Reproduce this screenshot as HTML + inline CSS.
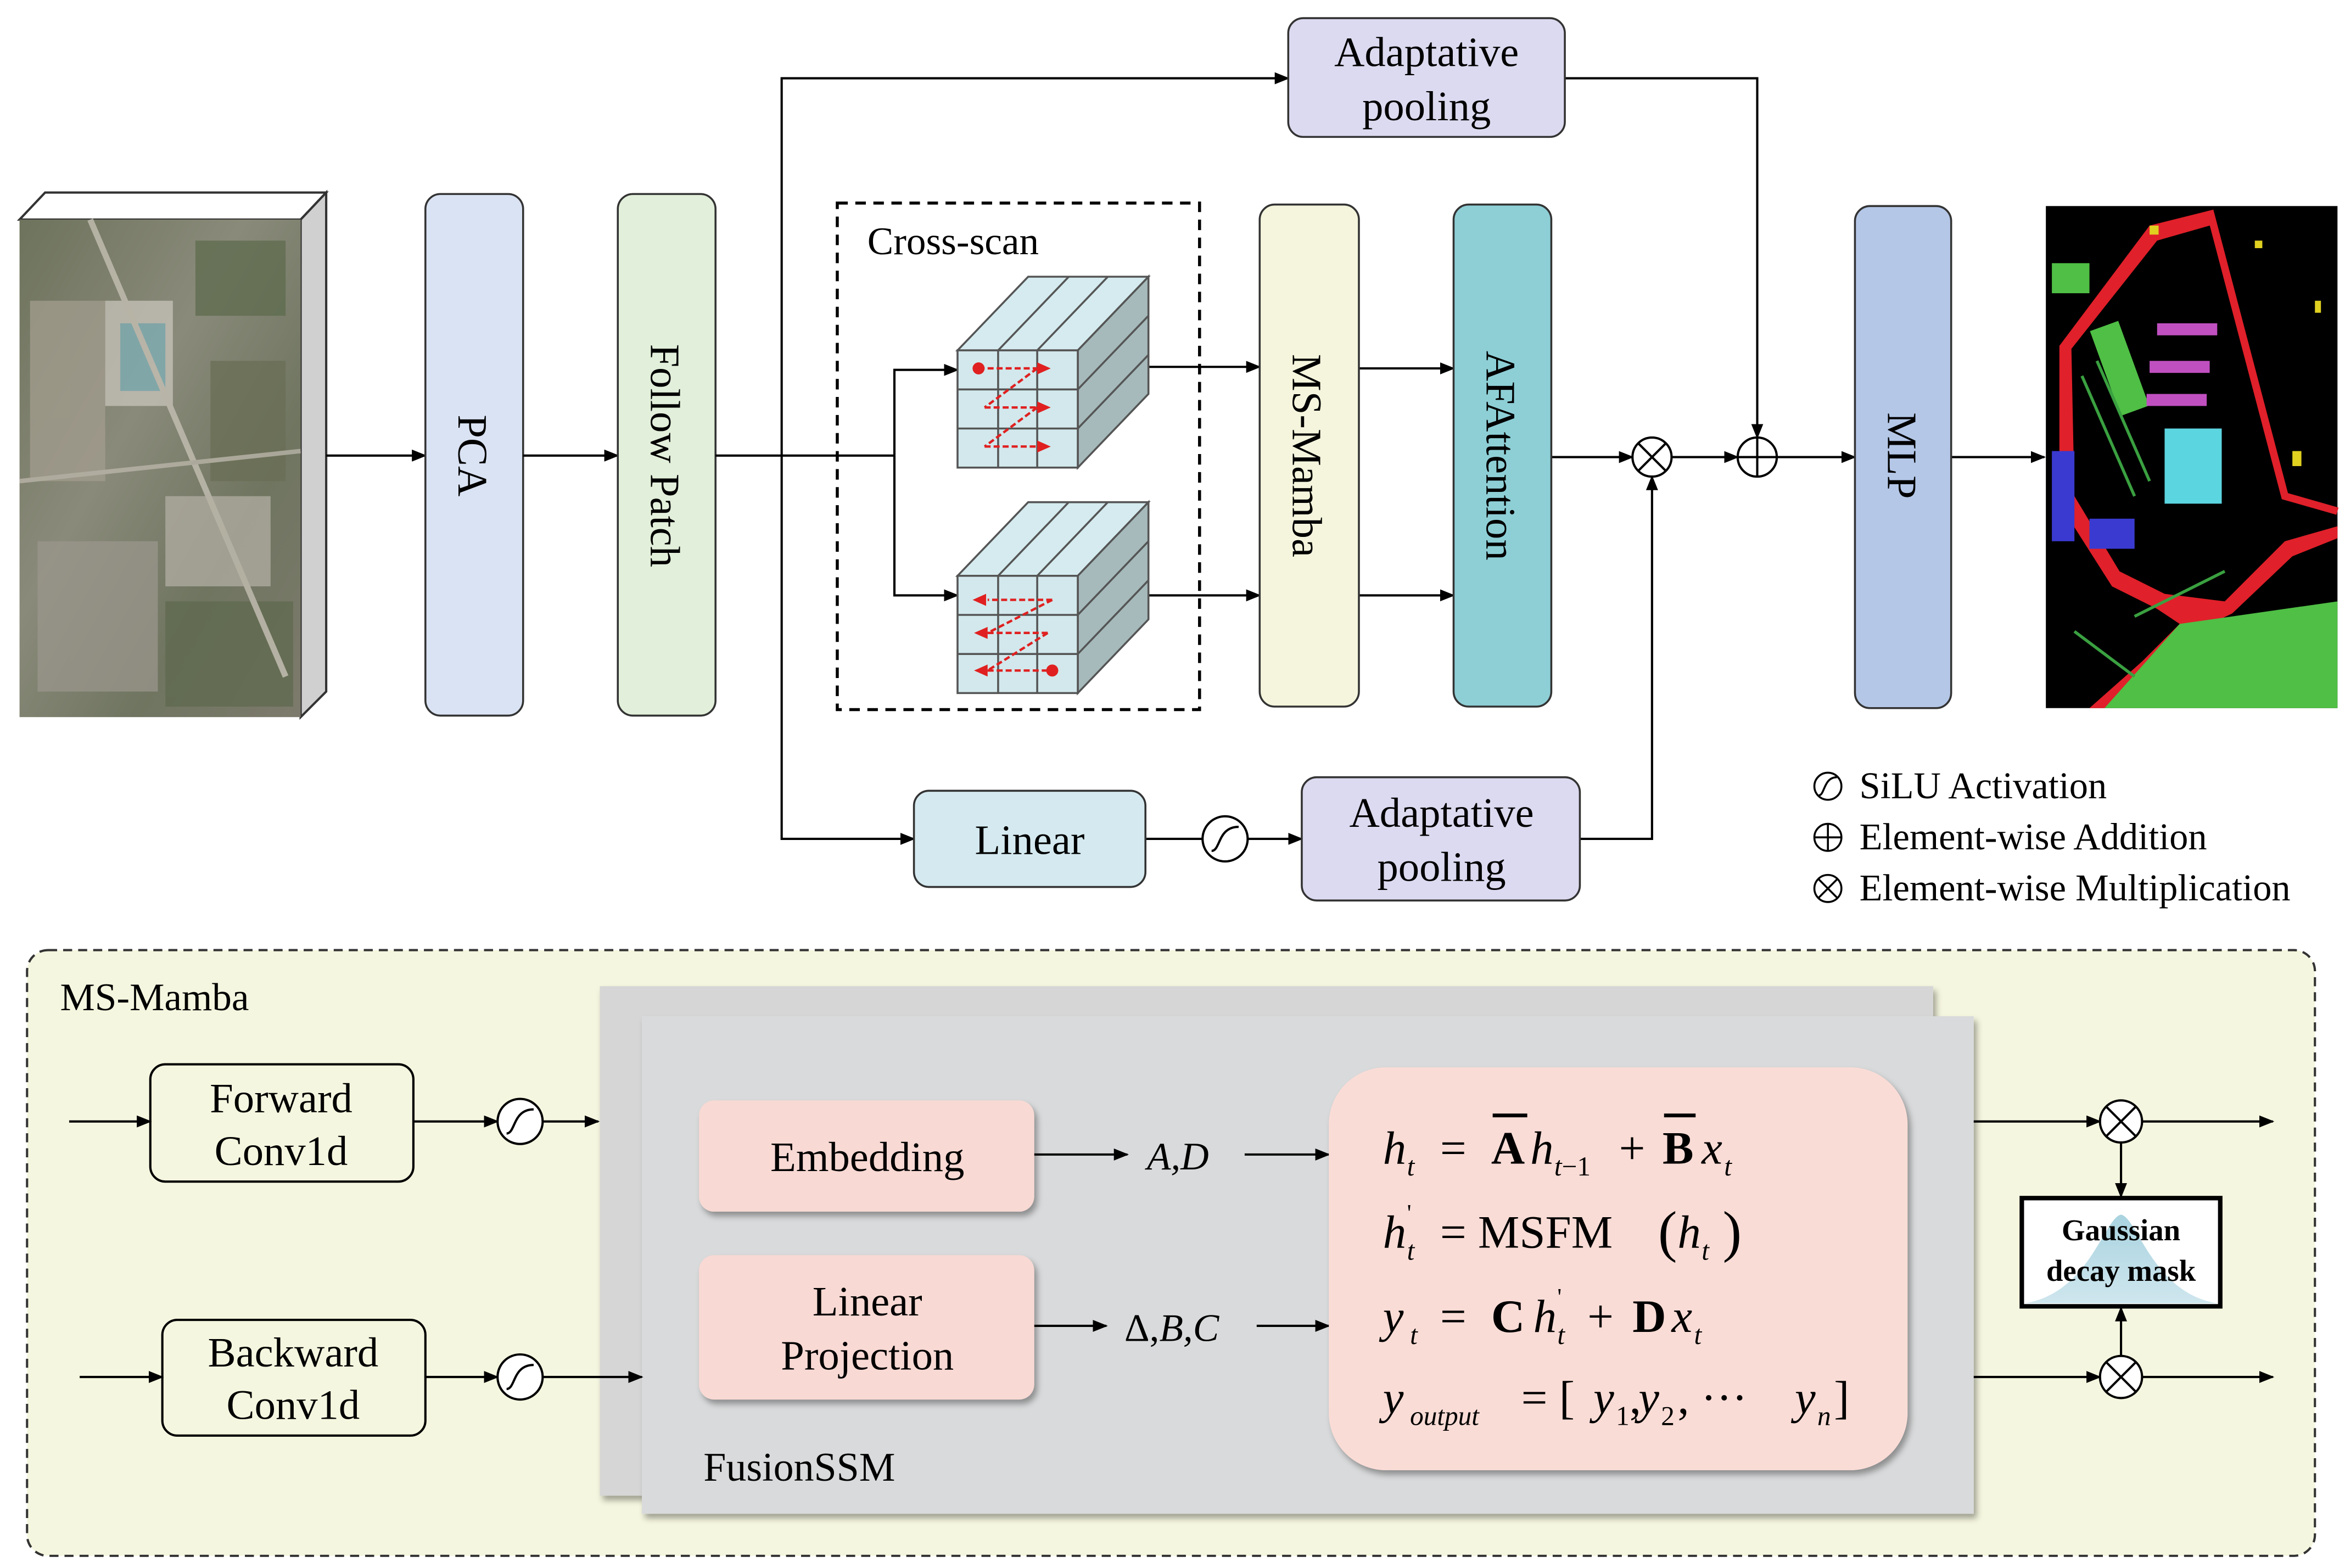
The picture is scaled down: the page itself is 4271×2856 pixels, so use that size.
<!DOCTYPE html>
<html><head><meta charset="utf-8"><style>html,body{margin:0;padding:0;background:#fff}svg{display:block}text{font-family:"Liberation Serif",serif}</style></head>
<body>
<svg xmlns="http://www.w3.org/2000/svg" width="4271" height="2856" viewBox="0 0 1560 1043">
<defs>
<marker id="ar" markerWidth="10" markerHeight="8" refX="9" refY="4" orient="auto" markerUnits="userSpaceOnUse"><path d="M0,0 L10,4 L0,8 z" fill="#000"/></marker>
<linearGradient id="aer" x1="0" y1="0" x2="1" y2="1"><stop offset="0" stop-color="#6d735c"/><stop offset="0.4" stop-color="#8a8a7a"/><stop offset="0.7" stop-color="#6f7560"/><stop offset="1" stop-color="#7d7a6c"/></linearGradient>
<filter id="sh" x="-10%" y="-10%" width="130%" height="130%"><feDropShadow dx="2" dy="3" stdDeviation="2" flood-opacity="0.35"/></filter>
<linearGradient id="gs" x1="0" y1="0" x2="0" y2="1"><stop offset="0" stop-color="#a9d3e0"/><stop offset="1" stop-color="#cfe6ee"/></linearGradient>
</defs>
<rect width="1560" height="1043" fill="#fff"/>

<!-- aerial cube -->
<polygon points="13,146 30,128 217,128 200,146" fill="#fff" stroke="#333" stroke-width="1.5"/>
<polygon points="200,146 217,128 217,460 200,477" fill="#d0d0d0" stroke="#333" stroke-width="1.5"/>
<rect x="13" y="146" width="187" height="331" fill="url(#aer)"/>
<g opacity="0.75">
<rect x="20" y="200" width="50" height="120" fill="#a39d8f"/>
<rect x="70" y="200" width="45" height="70" fill="#c8c4bb"/>
<rect x="80" y="215" width="30" height="45" fill="#7fb0b8"/>
<rect x="130" y="160" width="60" height="50" fill="#5d6b4d"/>
<rect x="25" y="360" width="80" height="100" fill="#9a968c"/>
<rect x="110" y="330" width="70" height="60" fill="#b2aea3"/>
<rect x="140" y="240" width="50" height="80" fill="#6a6e55"/>
<rect x="110" y="400" width="85" height="70" fill="#5f6a4f"/>
<path d="M60,146 L190,450" stroke="#c9c4b8" stroke-width="4"/>
<path d="M13,320 L200,300" stroke="#bdb8ac" stroke-width="3"/>
</g>
<line x1="217" y1="303" x2="283" y2="303" stroke="#000" stroke-width="1.5" marker-end="url(#ar)"/>

<!-- PCA / Follow Patch -->
<rect x="283" y="129" width="65" height="347" rx="10" fill="#dae3f3" stroke="#333" stroke-width="1.3"/>
<text transform="translate(305,303) rotate(90)" font-size="28" text-anchor="middle">PCA</text>
<line x1="348" y1="303" x2="411" y2="303" stroke="#000" stroke-width="1.5" marker-end="url(#ar)"/>
<rect x="411" y="129" width="65" height="347" rx="10" fill="#e2efda" stroke="#333" stroke-width="1.3"/>
<text transform="translate(433,303) rotate(90)" font-size="28" text-anchor="middle">Follow Patch</text>

<!-- branches -->
<g stroke="#000" stroke-width="1.5" fill="none">
<line x1="476" y1="303" x2="595" y2="303"/>
<polyline points="520,303 520,52 857,52" marker-end="url(#ar)"/>
<polyline points="520,303 520,558 608,558" marker-end="url(#ar)"/>
<polyline points="595,303 595,246 637,246" marker-end="url(#ar)"/>
<polyline points="595,303 595,396 637,396" marker-end="url(#ar)"/>
<line x1="764" y1="244" x2="838" y2="244" marker-end="url(#ar)"/>
<line x1="764" y1="396" x2="838" y2="396" marker-end="url(#ar)"/>
<line x1="904" y1="245" x2="967" y2="245" marker-end="url(#ar)"/>
<line x1="904" y1="396" x2="967" y2="396" marker-end="url(#ar)"/>
<line x1="1032" y1="304" x2="1086" y2="304" marker-end="url(#ar)"/>
<line x1="1112" y1="304" x2="1156" y2="304" marker-end="url(#ar)"/>
<line x1="1182" y1="304" x2="1234" y2="304" marker-end="url(#ar)"/>
<polyline points="1041,52 1169,52 1169,291" marker-end="url(#ar)"/>
<line x1="1298" y1="304" x2="1360" y2="304" marker-end="url(#ar)"/>
<line x1="762" y1="558" x2="800" y2="558"/>
<line x1="830" y1="558" x2="866" y2="558" marker-end="url(#ar)"/>
<polyline points="1051,558 1099,558 1099,317" marker-end="url(#ar)"/>
</g>

<!-- cross-scan box -->
<rect x="557" y="135" width="241" height="337" fill="none" stroke="#000" stroke-width="2" stroke-dasharray="7,5"/>
<text x="577" y="169" font-size="26">Cross-scan</text>

<!-- cubes -->
<g id="cube1" stroke="#555" stroke-width="1.3">
<polygon points="637,233 684,184 764,184 717,233" fill="#d5ebef"/>
<polygon points="717,233 764,184 764,262 717,311" fill="#a6babb"/>
<rect x="637" y="233" width="80" height="78" fill="#d2e8ec"/>
<line x1="664" y1="233" x2="711" y2="184"/><line x1="690" y1="233" x2="737" y2="184"/>
<line x1="637" y1="259" x2="717" y2="259"/><line x1="637" y1="285" x2="717" y2="285"/>
<line x1="664" y1="233" x2="664" y2="311"/><line x1="690" y1="233" x2="690" y2="311"/>
<line x1="717" y1="259" x2="764" y2="210"/><line x1="717" y1="285" x2="764" y2="236"/>
</g>
<use href="#cube1" transform="translate(0,150)"/>
<g stroke="#e02020" stroke-width="1.6" stroke-dasharray="4,2" fill="none">
<line x1="651" y1="245" x2="690" y2="245"/><line x1="690" y1="245" x2="655" y2="271"/><line x1="655" y1="271" x2="690" y2="271"/><line x1="690" y1="271" x2="655" y2="297"/><line x1="655" y1="297" x2="690" y2="297"/>
<line x1="700" y1="399" x2="657" y2="399"/><line x1="700" y1="399" x2="657" y2="421"/><line x1="657" y1="421" x2="697" y2="421"/><line x1="697" y1="421" x2="657" y2="446"/><line x1="657" y1="446" x2="700" y2="446"/>
</g>
<g fill="#e02020">
<circle cx="651" cy="245" r="4"/><circle cx="700" cy="446" r="4"/>
<path d="M690,241 L699,245 L690,249z"/><path d="M690,267 L699,271 L690,275z"/><path d="M690,293 L699,297 L690,301z"/>
<path d="M656,395 L647,399 L656,403z"/><path d="M657,417 L648,421 L657,425z"/><path d="M657,442 L648,446 L657,450z"/>
</g>

<!-- MS-Mamba / AFAttention -->
<rect x="838" y="136" width="66" height="334" rx="10" fill="#f4f5dc" stroke="#333" stroke-width="1.3"/>
<text transform="translate(860,303) rotate(90)" font-size="28" text-anchor="middle">MS-Mamba</text>
<rect x="967" y="136" width="65" height="334" rx="10" fill="#8ecfd6" stroke="#333" stroke-width="1.3"/>
<text transform="translate(989,303) rotate(90)" font-size="28" text-anchor="middle">AFAttention</text>

<!-- ops -->
<g stroke="#000" stroke-width="1.5" fill="#fff">
<circle cx="1099" cy="304" r="13"/><line x1="1090" y1="295" x2="1108" y2="313"/><line x1="1108" y1="295" x2="1090" y2="313"/>
<circle cx="1169" cy="304" r="13"/><line x1="1156" y1="304" x2="1182" y2="304"/><line x1="1169" y1="291" x2="1169" y2="317"/>
<circle cx="815" cy="558" r="15"/><path d="M806,566 C812,566 810,550 824,550" fill="none"/>
</g>

<!-- pooling boxes -->
<rect x="857" y="12" width="184" height="79" rx="10" fill="#dcdaf0" stroke="#333" stroke-width="1.3"/>
<text x="949" y="44" font-size="28" text-anchor="middle">Adaptative</text><text x="949" y="80" font-size="28" text-anchor="middle">pooling</text>
<rect x="866" y="517" width="185" height="82" rx="10" fill="#dcdaf0" stroke="#333" stroke-width="1.3"/>
<text x="959" y="550" font-size="28" text-anchor="middle">Adaptative</text><text x="959" y="586" font-size="28" text-anchor="middle">pooling</text>
<rect x="608" y="526" width="154" height="64" rx="10" fill="#d5eaf0" stroke="#333" stroke-width="1.3"/>
<text x="685" y="568" font-size="28" text-anchor="middle">Linear</text>

<!-- MLP -->
<rect x="1234" y="137" width="64" height="334" rx="10" fill="#b4c7e7" stroke="#333" stroke-width="1.3"/>
<text transform="translate(1256,303) rotate(90)" font-size="28" text-anchor="middle">MLP</text>

<!-- seg map -->
<rect x="1361" y="137" width="194" height="334" fill="#000"/>
<path d="M1370,230 L1430,150 L1470,140 L1470,150 L1435,160 L1378,232 L1380,330 L1410,380 L1440,395 L1480,400 L1520,360 L1555,350 L1555,358 L1525,370 L1485,408 L1460,420 L1430,450 L1400,471 L1390,471 L1425,440 L1450,415 L1435,405 L1405,390 L1370,335 Z" fill="#e0202a"/>
<path d="M1470,140 L1520,330 L1555,340" stroke="#e0202a" stroke-width="5" fill="none"/>
<path d="M1400,471 L1450,415 L1555,400 L1555,471 Z" fill="#4fbf45"/>
<rect x="1400" y="215" width="20" height="60" fill="#4fbf45" transform="rotate(-20 1410 245)"/>
<rect x="1365" y="175" width="25" height="20" fill="#4fbf45"/>
<rect x="1440" y="285" width="38" height="50" fill="#5bd5e0"/>
<rect x="1435" y="215" width="40" height="8" fill="#c050c0"/><rect x="1430" y="240" width="40" height="8" fill="#c050c0"/><rect x="1428" y="262" width="40" height="8" fill="#c050c0"/>
<rect x="1365" y="300" width="15" height="60" fill="#3a3ad0"/>
<rect x="1390" y="345" width="30" height="20" fill="#3a3ad0"/>
<g stroke="#3aa040" stroke-width="2"><line x1="1385" y1="250" x2="1420" y2="330"/><line x1="1395" y1="240" x2="1430" y2="320"/><line x1="1420" y1="410" x2="1480" y2="380"/><line x1="1380" y1="420" x2="1420" y2="450"/></g>
<g fill="#e0d020"><rect x="1430" y="150" width="6" height="6"/><rect x="1500" y="160" width="5" height="5"/><rect x="1525" y="300" width="6" height="10"/><rect x="1540" y="200" width="4" height="8"/></g>

<!-- legend -->
<g stroke="#000" stroke-width="1.3" fill="#fff">
<circle cx="1216" cy="523" r="9"/><path d="M1210,529 C1214,529 1213,517 1222,517" fill="none"/>
<circle cx="1216" cy="557" r="9"/><line x1="1207" y1="557" x2="1225" y2="557"/><line x1="1216" y1="548" x2="1216" y2="566"/>
<circle cx="1216" cy="591" r="9"/><line x1="1210" y1="585" x2="1222" y2="597"/><line x1="1222" y1="585" x2="1210" y2="597"/>
</g>
<g font-size="25"><text x="1237" y="531">SiLU Activation</text><text x="1237" y="565">Element-wise Addition</text><text x="1237" y="599">Element-wise Multiplication</text></g>

<!-- bottom panel -->
<rect x="18" y="632" width="1522" height="403" rx="14" fill="#f5f6df" stroke="#333" stroke-width="1.5" stroke-dasharray="6,4"/>
<text x="40" y="672" font-size="26">MS-Mamba</text>
<rect x="399" y="656" width="887" height="339" fill="#d6d6d6" filter="url(#sh)"/>
<rect x="427" y="676" width="886" height="331" fill="#d9dadb" filter="url(#sh)"/>
<text x="468" y="985" font-size="27">FusionSSM</text>

<rect x="100" y="708" width="175" height="78" rx="10" fill="#f5f6df" stroke="#000" stroke-width="1.5"/>
<text x="187" y="740" font-size="28" text-anchor="middle">Forward</text><text x="187" y="775" font-size="28" text-anchor="middle">Conv1d</text>
<rect x="108" y="878" width="175" height="77" rx="10" fill="#f5f6df" stroke="#000" stroke-width="1.5"/>
<text x="195" y="909" font-size="28" text-anchor="middle">Backward</text><text x="195" y="944" font-size="28" text-anchor="middle">Conv1d</text>

<g stroke="#000" stroke-width="1.5" fill="none">
<line x1="46" y1="746" x2="100" y2="746" marker-end="url(#ar)"/>
<line x1="275" y1="746" x2="331" y2="746" marker-end="url(#ar)"/>
<line x1="361" y1="746" x2="398" y2="746" marker-end="url(#ar)"/>
<line x1="53" y1="916" x2="108" y2="916" marker-end="url(#ar)"/>
<line x1="283" y1="916" x2="331" y2="916" marker-end="url(#ar)"/>
<line x1="361" y1="916" x2="427" y2="916" marker-end="url(#ar)"/>
<line x1="688" y1="768" x2="750" y2="768" marker-end="url(#ar)"/>
<line x1="828" y1="768" x2="884" y2="768" marker-end="url(#ar)"/>
<line x1="688" y1="882" x2="736" y2="882" marker-end="url(#ar)"/>
<line x1="836" y1="882" x2="884" y2="882" marker-end="url(#ar)"/>
<line x1="1313" y1="746" x2="1397" y2="746" marker-end="url(#ar)"/>
<line x1="1425" y1="746" x2="1512" y2="746" marker-end="url(#ar)"/>
<line x1="1411" y1="760" x2="1411" y2="796" marker-end="url(#ar)"/>
<line x1="1313" y1="916" x2="1397" y2="916" marker-end="url(#ar)"/>
<line x1="1425" y1="916" x2="1512" y2="916" marker-end="url(#ar)"/>
<line x1="1411" y1="902" x2="1411" y2="870" marker-end="url(#ar)"/>
</g>
<g stroke="#000" stroke-width="1.5" fill="#fff">
<circle cx="346" cy="746" r="15"/><path d="M337,754 C343,754 341,738 355,738" fill="none"/>
<circle cx="346" cy="916" r="15"/><path d="M337,924 C343,924 341,908 355,908" fill="none"/>
<circle cx="1411" cy="746" r="14"/><line x1="1401" y1="736" x2="1421" y2="756"/><line x1="1421" y1="736" x2="1401" y2="756"/>
<circle cx="1411" cy="916" r="14"/><line x1="1401" y1="906" x2="1421" y2="926"/><line x1="1421" y1="906" x2="1401" y2="926"/>
</g>

<rect x="465" y="732" width="223" height="74" rx="10" fill="#f8d9d3" filter="url(#sh)"/>
<text x="577" y="779" font-size="28" text-anchor="middle">Embedding</text>
<rect x="465" y="835" width="223" height="96" rx="10" fill="#f8d9d3" filter="url(#sh)"/>
<text x="577" y="875" font-size="28" text-anchor="middle">Linear</text><text x="577" y="911" font-size="28" text-anchor="middle">Projection</text>
<text x="763" y="778" font-size="26" font-style="italic">A,D</text>
<text x="748" y="892" font-size="26"><tspan>Δ,</tspan><tspan font-style="italic">B,C</tspan></text>

<rect x="884" y="710" width="385" height="268" rx="38" fill="#fadcd6" filter="url(#sh)"/>
<g font-size="31">
<!-- line 1 -->
<text x="920" y="774" font-style="italic">h</text><text x="936" y="782" font-size="18" font-style="italic">t</text>
<text x="958" y="774">=</text>
<text x="992" y="774" font-weight="bold">A</text>
<text x="1018" y="774" font-style="italic">h</text><text x="1034" y="782" font-size="18"><tspan font-style="italic">t</tspan>−1</text>
<text x="1077" y="774">+</text>
<text x="1106" y="774" font-weight="bold">B</text>
<text x="1132" y="774" font-style="italic">x</text><text x="1147" y="782" font-size="18" font-style="italic">t</text>
<line x1="993" y1="742" x2="1016" y2="742" stroke="#000" stroke-width="2.5"/>
<line x1="1107" y1="742" x2="1128" y2="742" stroke="#000" stroke-width="2.5"/>
<!-- line 2 -->
<text x="920" y="830" font-style="italic">h</text><text x="936" y="838" font-size="18" font-style="italic">t</text><text x="936" y="812" font-size="16">'</text>
<text x="958" y="830">= MSFM</text>
<text x="1103" y="832" font-size="38">(</text>
<text x="1116" y="830" font-style="italic">h</text><text x="1132" y="838" font-size="18" font-style="italic">t</text>
<text x="1146" y="832" font-size="38">)</text>
<!-- line 3 -->
<text x="920" y="886" font-style="italic">y</text><text x="938" y="894" font-size="18" font-style="italic">t</text>
<text x="958" y="886">=</text>
<text x="992" y="886" font-weight="bold">C</text>
<text x="1020" y="886" font-style="italic">h</text><text x="1036" y="894" font-size="18" font-style="italic">t</text><text x="1036" y="868" font-size="16">'</text>
<text x="1056" y="886">+</text>
<text x="1086" y="886" font-weight="bold">D</text>
<text x="1112" y="886" font-style="italic">x</text><text x="1127" y="894" font-size="18" font-style="italic">t</text>
<!-- line 4 -->
<text x="920" y="940" font-style="italic">y</text><text x="938" y="948" font-size="18" font-style="italic">output</text>
<text x="1012" y="940">= [</text>
<text x="1060" y="940" font-style="italic">y</text><text x="1075" y="948" font-size="18">1</text>
<text x="1084" y="940">,</text>
<text x="1090" y="940" font-style="italic">y</text><text x="1105" y="948" font-size="18">2</text>
<text x="1116" y="940">, ··· </text>
<text x="1194" y="940" font-style="italic">y</text><text x="1209" y="948" font-size="18" font-style="italic">n</text>
<text x="1220" y="940">]</text>
</g>

<rect x="1345" y="797" width="132" height="72" fill="#fff" stroke="#000" stroke-width="3"/>
<path d="M1347,867 C1390,860 1400,810 1411,808 C1422,810 1432,860 1475,867 Z" fill="url(#gs)"/>
<text x="1411" y="825" font-size="20" font-weight="bold" text-anchor="middle">Gaussian</text>
<text x="1411" y="852" font-size="20" font-weight="bold" text-anchor="middle">decay mask</text>
</svg>
</body></html>
